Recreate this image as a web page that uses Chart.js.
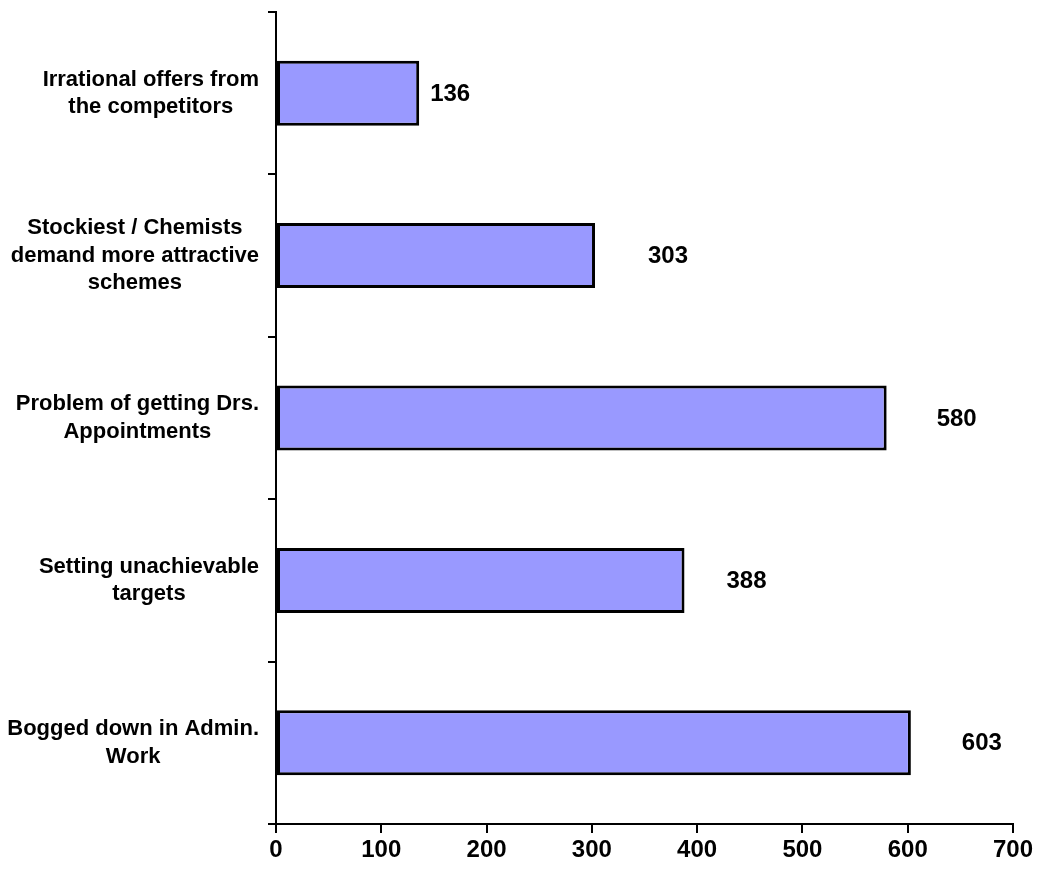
<!DOCTYPE html>
<html>
<head>
<meta charset="utf-8">
<script src="https://cdn.jsdelivr.net/npm/chart.js@4/dist/chart.umd.min.js"></script>
<style>
  html, body { margin: 0; padding: 0; background: #ffffff; }
  #wrap { width: 1040px; height: 876px; }
</style>
</head>
<body>
<div id="wrap"><canvas id="chart" width="1040" height="876"></canvas></div>
<script>
// Categories (each entry is the wrapped label lines)
const categories = [
  ['Irrational offers from', 'the competitors'],
  ['Stockiest / Chemists', 'demand more attractive', 'schemes'],
  ['Problem of getting Drs.', 'Appointments'],
  ['Setting unachievable', 'targets'],
  ['Bogged down in Admin.', 'Work']
];
const values = [136, 303, 580, 388, 603];
const xTickValues = [0, 100, 200, 300, 400, 500, 600, 700];

// Styling
const FONT = '"Liberation Sans", Arial, Helvetica, sans-serif';
const BAR_FILL = '#9999ff';
// horizontal nudge (px) of each value label beyond its bar end
const valueLabelGap = [31, 73, 70, 62, 71];

const categoryLabels = {
  id: 'categoryLabels',
  afterDraw(chart) {
    const { ctx } = chart;
    const y = chart.scales.y;
    const rightEdge = 259;
    const lineH = 27.5;
    ctx.save();
    ctx.font = 'bold 22px ' + FONT;
    ctx.fillStyle = '#000';
    ctx.textAlign = 'center';
    ctx.textBaseline = 'middle';
    categories.forEach((lines, i) => {
      const cy = y.getPixelForValue(i);
      const w = Math.max(...lines.map(l => ctx.measureText(l).width));
      const cx = rightEdge - w / 2;
      const top = cy - (lines.length - 1) * lineH / 2;
      lines.forEach((l, k) => ctx.fillText(l, cx, top + k * lineH));
    });
    ctx.restore();
  }
};

const valueLabels = {
  id: 'valueLabels',
  afterDatasetsDraw(chart) {
    const { ctx } = chart;
    const meta = chart.getDatasetMeta(0);
    ctx.save();
    ctx.font = 'bold 24px ' + FONT;
    ctx.fillStyle = '#000';
    ctx.textAlign = 'center';
    ctx.textBaseline = 'middle';
    meta.data.forEach((bar, i) => {
      ctx.fillText(String(values[i]), bar.x + valueLabelGap[i], bar.y + 1);
    });
    ctx.restore();
  }
};

new Chart(document.getElementById('chart'), {
  type: 'bar',
  data: {
    labels: categories.map(c => c.join(' ')),
    datasets: [{
      data: values,
      backgroundColor: BAR_FILL,
      borderColor: '#000000',
      borderWidth: 3,
      borderSkipped: false,
      barPercentage: 0.4,
      categoryPercentage: 1.0
    }]
  },
  options: {
    indexAxis: 'y',
    responsive: false,
    animation: false,
    devicePixelRatio: 1,
    layout: { padding: { top: 12, right: 27, left: 0, bottom: 0 } },
    plugins: {
      legend: { display: false },
      tooltip: { enabled: false },
      title: { display: false }
    },
    scales: {
      x: {
        min: 0,
        max: 700,
        afterBuildTicks(scale) {
          scale.ticks = xTickValues.map(v => ({ value: v }));
        },
        afterFit(scale) { scale.height = 52; },
        grid: {
          drawOnChartArea: false,
          drawTicks: true,
          tickLength: 9,
          color: '#000',
          lineWidth: 2
        },
        border: { display: true, color: '#000', width: 2 },
        ticks: {
          color: '#000',
          font: { family: FONT, size: 24, weight: 'bold' },
          padding: 3,
          maxRotation: 0
        }
      },
      y: {
        afterFit(scale) { scale.width = 276; },
        grid: {
          drawOnChartArea: false,
          drawTicks: true,
          tickLength: 8,
          color: '#000',
          lineWidth: 2
        },
        border: { display: true, color: '#000', width: 2 },
        ticks: { display: false }
      }
    }
  },
  plugins: [categoryLabels, valueLabels]
});
</script>
</body>
</html>
